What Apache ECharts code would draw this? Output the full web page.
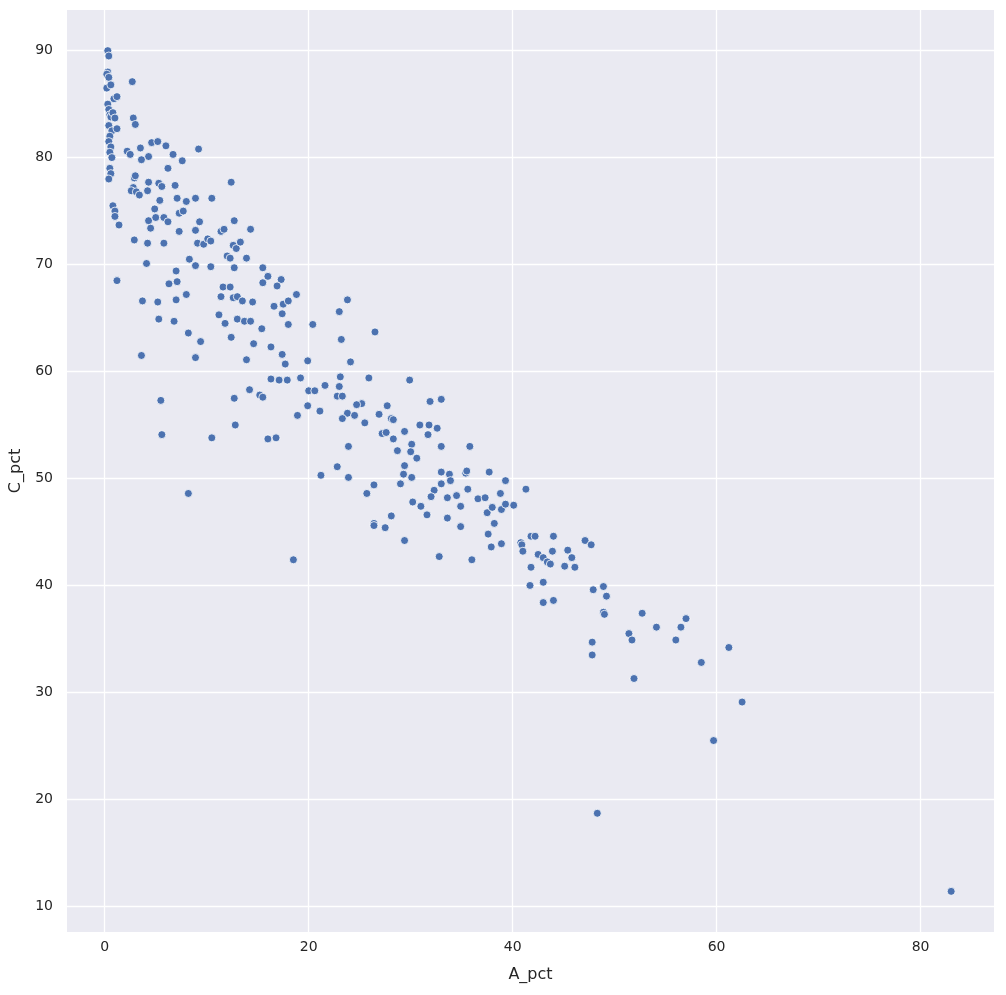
<!DOCTYPE html>
<html><head><meta charset="utf-8">
<script src="https://cdn.jsdelivr.net/npm/echarts@6/dist/echarts.min.js"></script>
<style>html,body{margin:0;padding:0;background:#fff}#c{width:1006px;height:995px}</style>
</head><body><div id="c"></div>
<script>
const xTicks=[0,20,40,60,80];
const yTicks=[10,20,30,40,50,60,70,80,90];
const clusterX=[0.3,0.4,0.3,0.2,0.4,0.2,0.6,0.9,0.3,0.4,0.5,0.6,0.4,0.7,0.5,0.4,0.6,0.5,0.7,0.5,0.6,0.4,0.8,1.0,1.0,1.4,1.2,1.2,0.8,1.0,1.2];
const clusterY=[90,89.5,88,87.8,87.5,86.5,86.8,85.5,85,84.5,84,83.8,83,82.5,82,81.5,81,80.5,80,79,78.5,78,75.5,75,74.5,73.7,68.5,85.7,84.2,83.7,82.7];
const A_pct=[2.7,2.8,3.0,2.2,2.5,4.6,5.2,6.0,3.5,4.3,3.6,6.7,7.6,9.2,2.9,3.0,2.8,2.6,3.1,3.4,4.3,5.3,5.6,6.2,6.9,4.2,5.4,7.1,8.0,8.9,10.5,12.4,4.9,4.3,5.0,5.8,6.2,7.3,7.7,9.3,12.7,14.3,4.5,7.3,8.9,11.4,11.7,2.9,4.2,5.8,9.1,9.7,10.1,10.4,12.6,12.9,13.3,12.0,12.3,13.9,4.1,8.3,8.9,10.4,12.7,15.5,7.0,16.0,17.3,6.3,7.1,11.6,12.3,15.5,16.9,17.4,8.0,11.4,12.6,13.0,13.5,14.5,17.5,18.0,18.8,16.6,23.8,3.7,5.2,7.0,11.2,6.8,5.3,11.8,13.0,13.7,14.3,15.4,18.0,20.4,23.0,26.5,8.2,12.4,23.2,9.4,14.6,16.3,3.6,8.9,13.9,17.4,17.7,19.9,24.1,16.3,17.1,17.9,19.2,23.1,25.9,29.9,14.2,15.2,15.5,20.0,20.6,21.6,23.0,5.5,12.7,22.8,23.3,25.2,24.7,27.7,31.9,33.0,19.9,21.1,18.9,23.8,24.5,23.3,26.9,28.1,28.3,25.5,12.8,30.9,31.8,32.6,27.2,27.6,29.4,5.6,10.5,16.0,16.8,28.3,30.1,31.7,35.8,23.9,28.7,30.0,30.6,33.0,29.4,22.8,21.2,23.9,29.3,30.1,33.0,33.8,35.4,35.5,37.7,39.3,33.0,33.9,26.4,29.0,32.3,35.6,41.3,25.7,32.0,33.6,34.5,36.6,37.3,38.8,8.2,30.2,31.0,34.9,37.5,38.0,38.9,39.3,40.1,28.1,31.6,33.6,38.2,26.4,26.4,27.5,34.9,37.6,29.4,37.9,38.9,40.8,40.9,41.8,42.2,44.0,47.1,47.7,41.0,42.5,43.0,43.4,43.7,43.9,45.4,45.8,46.1,45.1,32.8,36.0,18.5,41.8,41.7,43.0,47.9,48.9,49.2,43.0,44.0,48.9,49.0,52.7,57.0,56.5,54.1,51.4,51.7,47.8,56.0,61.2,47.8,58.5,51.9,62.5,59.7,48.3,83.0];
const C_pct=[87.1,83.7,83.1,80.6,80.3,81.4,81.5,81.1,80.9,80.1,79.8,80.3,79.7,80.8,78.1,78.3,77.2,76.9,76.8,76.5,77.7,77.6,77.3,79.0,77.4,76.9,76.0,76.2,75.9,76.2,76.2,77.7,75.2,74.1,74.4,74.4,74.0,74.8,75.0,74.0,74.1,73.3,73.4,73.1,73.2,73.1,73.3,72.3,72.0,72.0,72.0,71.9,72.4,72.2,71.8,71.5,72.1,70.8,70.6,70.6,70.1,70.5,69.9,69.8,69.7,69.7,69.4,68.9,68.6,68.2,68.4,67.9,67.9,68.3,68.0,65.4,67.2,67.0,66.9,67.0,66.6,66.5,66.3,66.6,67.2,66.1,66.7,66.6,66.5,66.7,65.3,64.7,64.9,64.5,64.9,64.7,64.7,64.0,64.4,64.4,65.6,63.7,63.6,63.2,63.0,62.8,62.6,62.3,61.5,61.3,61.1,61.6,60.7,61.0,60.9,59.3,59.2,59.2,59.4,59.5,59.4,59.2,58.3,57.8,57.6,58.2,58.2,58.7,58.6,57.3,57.5,57.7,57.7,57.0,56.9,56.8,57.2,57.4,56.8,56.3,55.9,56.1,55.9,55.6,56.0,55.6,55.5,55.2,55.0,55.0,55.0,54.7,54.2,54.3,54.4,54.1,53.8,53.7,53.8,53.7,53.2,54.1,53.0,53.0,52.6,52.5,51.9,53.0,51.2,51.1,50.3,50.1,50.4,50.1,50.6,50.4,50.5,50.7,50.6,49.8,49.5,49.8,49.4,49.5,48.9,49.0,49.0,48.6,48.3,48.2,48.4,48.1,48.2,48.6,48.6,47.8,47.4,47.4,46.8,47.3,47.1,47.6,47.5,46.5,46.6,46.3,45.8,45.8,45.6,45.4,45.5,44.8,44.2,43.6,43.9,44.0,43.8,44.6,44.6,44.6,44.2,43.8,43.2,42.9,42.6,42.2,42.0,43.2,43.3,42.6,41.7,41.8,42.7,42.4,42.4,41.7,40.0,40.3,39.6,39.9,39.0,38.4,38.6,37.5,37.3,37.4,36.9,36.1,36.1,35.5,34.9,34.7,34.9,34.2,33.5,32.8,31.3,29.1,25.5,18.7,11.4];
const pts=[];
clusterX.forEach((x,i)=>pts.push([x,clusterY[i]]));
A_pct.forEach((x,i)=>pts.push([x,C_pct[i]]));
const lab={color:'#262626',fontSize:14,fontFamily:'DejaVu Sans'};
const chart=echarts.init(document.getElementById('c'));
chart.setOption({
  backgroundColor:'#fff',
  grid:{left:67,right:12,top:10,bottom:63,show:true,backgroundColor:'#EAEAF2',borderWidth:0},
  xAxis:{type:'value',min:-3.7,max:87.2,name:'A_pct',nameLocation:'middle',nameGap:35,
    nameTextStyle:{color:'#262626',fontSize:16,fontFamily:'DejaVu Sans'},
    axisLine:{show:false},axisTick:{show:false,customValues:xTicks},
    axisLabel:Object.assign({customValues:xTicks,margin:8},lab),
    splitLine:{show:true,lineStyle:{color:'#fff',width:1.3}}},
  yAxis:{type:'value',min:7.6,max:93.8,name:'C_pct',nameLocation:'middle',nameGap:42,
    nameTextStyle:{color:'#262626',fontSize:16,fontFamily:'DejaVu Sans'},
    axisLine:{show:false},axisTick:{show:false,customValues:yTicks},
    axisLabel:Object.assign({customValues:yTicks,margin:14},lab),
    splitLine:{show:true,lineStyle:{color:'#fff',width:1.3}}},
  series:[{type:'scatter',data:pts,symbolSize:8,
    itemStyle:{color:'#4C72B0',borderColor:'#fff',borderWidth:0.8,opacity:1}}]
});
</script></body></html>
